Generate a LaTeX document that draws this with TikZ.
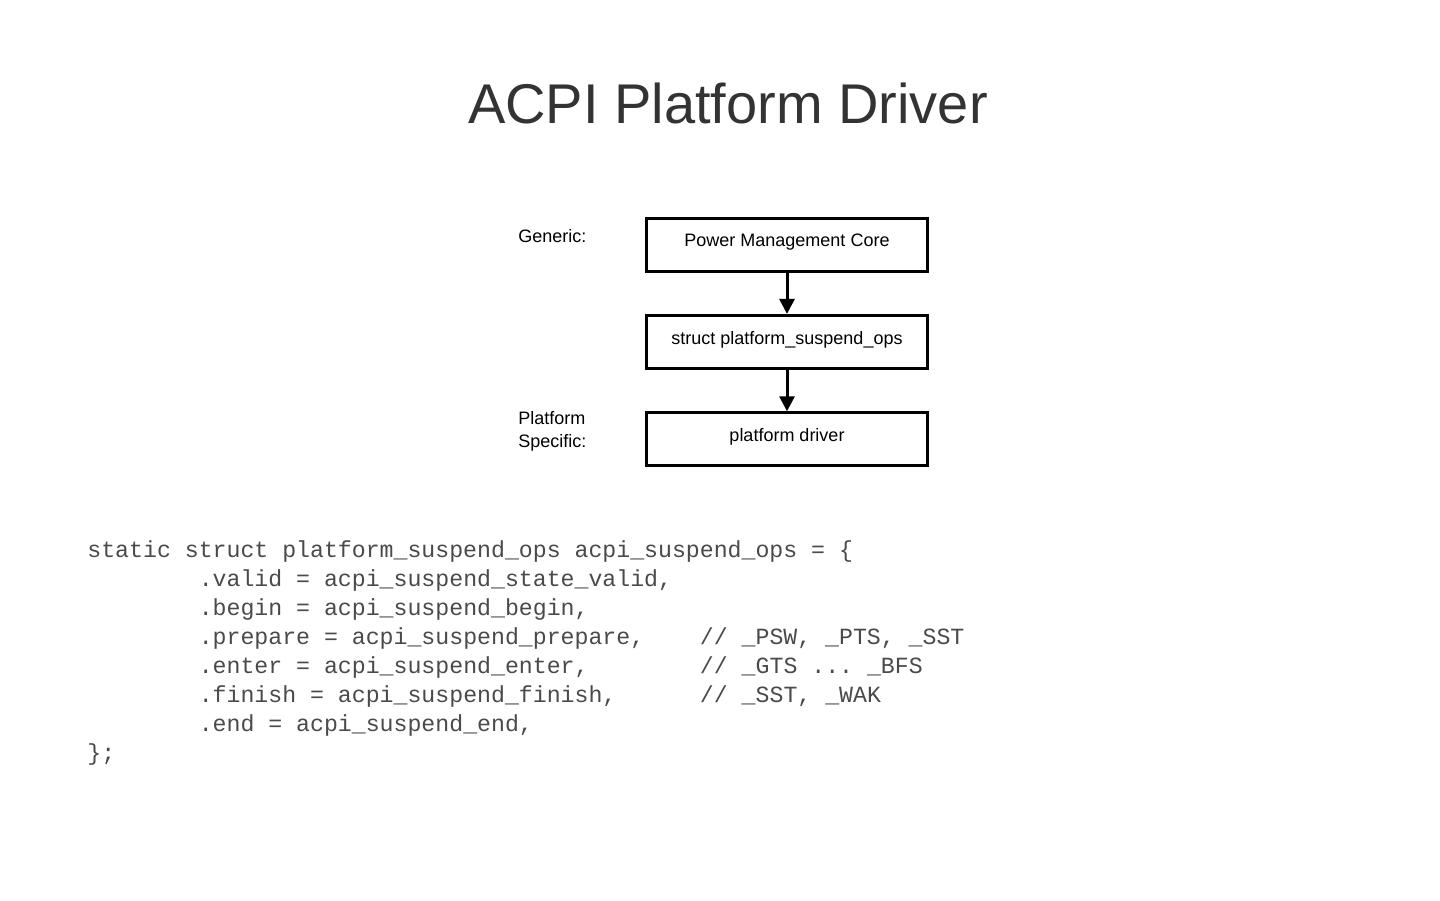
\documentclass[tikz,border=0pt]{standalone}
\usepackage{fontspec}
\setmainfont{Liberation Sans}
\setmonofont{Liberation Mono}
\usepackage{tikz}
\usetikzlibrary{arrows.meta,positioning}
\usepackage{xcolor}
\definecolor{titlegray}{HTML}{333333}
\definecolor{codegray}{HTML}{4A4A4A}
\newcommand\tab[1]{\hphantom{#1}}

\begin{document}
\begin{tikzpicture}[
  x=0.5pt,y=-0.5pt,
  node distance=20.7pt,
  box/.style={draw,line width=1.5pt,minimum width=140.5pt,minimum height=26.5pt,inner sep=0pt,font=\fontsize{9}{11}\selectfont,text height=7.5pt,text depth=5.1pt},
  side/.style={font=\fontsize{9}{11.5}\selectfont,align=left,anchor=base west,inner sep=0pt},
  arr/.style={-{Triangle[length=7.5pt,width=7.5pt]},line width=1.5pt},
  code/.style={font=\ttfamily\fontsize{11.6}{14.5}\selectfont,text=codegray,align=left,anchor=base west,inner sep=0pt}
]
\useasboundingbox (0,0) rectangle (1440,900);
\node[font=\fontsize{28}{32}\selectfont,text=titlegray,anchor=base] (title) at (728,123) {ACPI Platform Driver};
\node[box] (pmc) at (787,244.5) {Power Management Core};
\node[box,below=of pmc] (ops) {struct platform\_suspend\_ops};
\node[box,below=of ops] (drv) {platform driver};
\node[side] (generic) at (518,242) {Generic:};
\node[side] (specific) at (518,447) {Platform\\Specific:};
\draw[arr] (pmc) -- (ops);
\draw[arr] (ops) -- (drv);
% base anchor sits on the last line
\node[code] (ops code) at (87,760) {static struct platform\_suspend\_ops acpi\_suspend\_ops = \{\\
\tab{00000000}.valid = acpi\_suspend\_state\_valid,\\
\tab{00000000}.begin = acpi\_suspend\_begin,\\
\tab{00000000}.prepare = acpi\_suspend\_prepare,\tab{0000}// \_PSW, \_PTS, \_SST\\
\tab{00000000}.enter = acpi\_suspend\_enter,\tab{00000000}// \_GTS ... \_BFS\\
\tab{00000000}.finish = acpi\_suspend\_finish,\tab{000000}// \_SST, \_WAK\\
\tab{00000000}.end = acpi\_suspend\_end,\\
\};};
\end{tikzpicture}
\end{document}
